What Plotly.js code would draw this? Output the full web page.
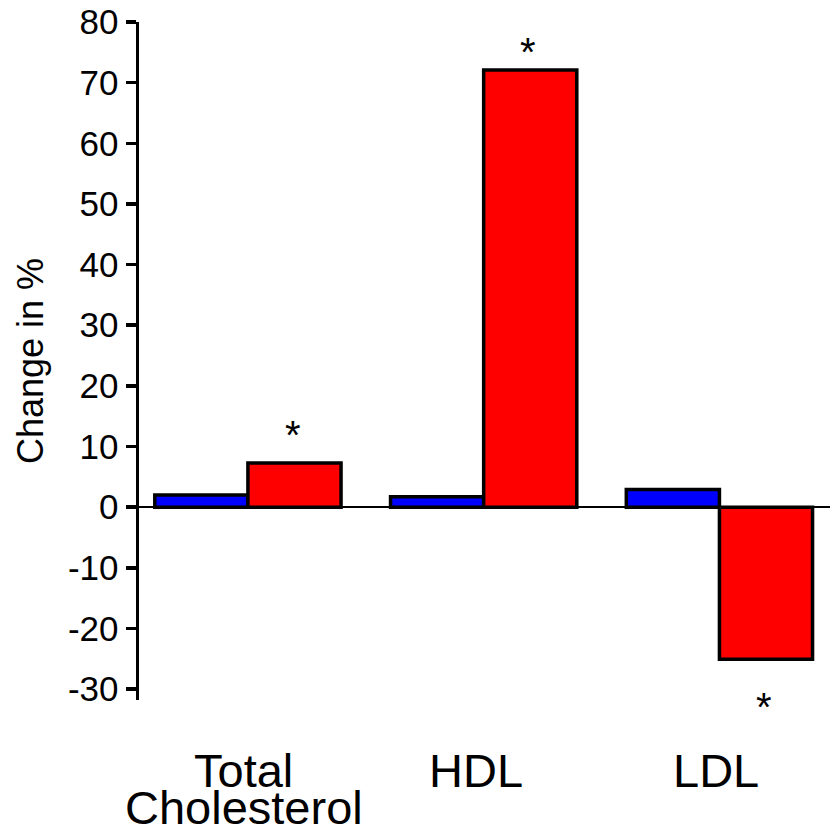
<!DOCTYPE html>
<html>
<head>
<meta charset="utf-8">
<script src="https://cdn.plot.ly/plotly-3.0.1.min.js"></script>
<style>html,body{margin:0;padding:0;background:#fff;}#chart{width:830px;height:827px;}</style>
</head>
<body>
<div id="chart"></div>
<script>
const categories = ["Total<br>Cholesterol", "HDL", "LDL"];
const controlValues = [2.0, 1.7, 2.9];
const treatmentValues = [7.3, 72.1, -25.1];
const significant = [true, true, true];
const yTickValues = [-30, -20, -10, 0, 10, 20, 30, 40, 50, 60, 70, 80];
const yTitle = "Change in %";

const FONT = "Arial, 'Liberation Sans', sans-serif";
const xIdx = categories.map((c, i) => i);

const traces = [
  {type: "bar", x: xIdx, y: controlValues, name: "Control",
   marker: {color: "#0000FF", line: {color: "#000", width: 3.5}}, hoverinfo: "skip"},
  {type: "bar", x: xIdx, y: treatmentValues, name: "Treatment",
   marker: {color: "#FF0000", line: {color: "#000", width: 3.5}}, hoverinfo: "skip"}
];

const annotations = [];
// category labels, one annotation per line (tight line spacing as in the original)
const labelShift = [-4, -8, -3];
categories.forEach((c, i) => {
  c.split("<br>").forEach((line, j) => {
    annotations.push({x: i, xref: "x", y: 0, yref: "paper", text: line, showarrow: false,
      xanchor: "center", yanchor: "middle", xshift: labelShift[i], yshift: -70 - j * 37,
      font: {family: FONT, size: 47, color: "#000"}});
  });
});
// significance asterisks
const starShift = [28, 18, -48];
treatmentValues.forEach((v, i) => {
  if (!significant[i]) return;
  annotations.push({x: i + 0.19, xref: "x", y: v, yref: "y", text: "*", showarrow: false,
    xanchor: "center", yanchor: "middle", yshift: starShift[i],
    font: {family: FONT, size: 40, color: "#000"}});
});

const layout = {
  width: 830, height: 827,
  margin: {l: 139, r: 0, t: 22, b: 127},
  paper_bgcolor: "#fff", plot_bgcolor: "#fff",
  showlegend: false,
  barmode: "group", bargap: 0.21, bargroupgap: 0,
  font: {family: FONT, color: "#000"},
  xaxis: {range: [-0.462, 2.469], showticklabels: false, ticks: "", showgrid: false,
          zeroline: false, showline: false, fixedrange: true},
  yaxis: {range: [-31.8, 80], tickvals: yTickValues, ticktext: yTickValues.map(String),
          ticks: "outside", ticklen: 10, tickwidth: 3.5, tickcolor: "#000",
          showline: true, linewidth: 3.5, linecolor: "#000",
          showgrid: false, zeroline: true, zerolinecolor: "#000", zerolinewidth: 2.5,
          tickfont: {family: FONT, size: 35, color: "#000"},
          title: {text: yTitle, font: {family: FONT, size: 36, color: "#000"}, standoff: 14},
          fixedrange: true},
  annotations: annotations
};

Plotly.newPlot("chart", traces, layout, {displayModeBar: false, staticPlot: true});
</script>
</body>
</html>
